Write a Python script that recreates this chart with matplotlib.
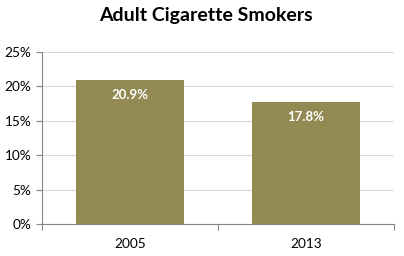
import matplotlib.pyplot as plt
from matplotlib.ticker import FuncFormatter

years = ["2005", "2013"]
smokers = [20.9, 17.8]
bar_color = "#938953"

plt.rcParams["font.family"] = ["Lato", "DejaVu Sans"]

fig = plt.figure(figsize=(4.04, 2.56), dpi=100)
ax = fig.add_axes([42 / 404, 1 - 224 / 256, 352 / 404, 172 / 256])

pos = list(range(len(years)))
bars = ax.bar(pos, smokers, width=0.61, color=bar_color, zorder=3)

for b, v in zip(bars, smokers):
    ax.annotate(f"{v:.1f}%", (b.get_x() + b.get_width() / 2, v),
                xytext=(0, -15), textcoords="offset pixels",
                ha="center", va="center", color="white",
                fontweight="bold", fontsize=9.5)

ax.set_ylim(0, 25)
ax.set_xlim(-0.5, len(years) - 0.5)
ax.set_yticks(range(0, 26, 5))
ax.yaxis.set_major_formatter(FuncFormatter(lambda v, p: f"{v:.0f}%"))
ax.grid(axis="y", color="#d9d9d9", linewidth=0.8, zorder=0)

ax.set_xticks([i - 0.5 for i in range(len(years) + 1)])
ax.set_xticklabels([])
ax.set_xticks(pos, minor=True)
ax.set_xticklabels(years, minor=True)
ax.tick_params(axis="x", which="minor", length=0, pad=10)
ax.tick_params(axis="both", which="major", direction="out", length=4,
               color="#868686", labelsize=9.8)
ax.tick_params(axis="x", which="minor", labelsize=9.8)

for s in ["top", "right"]:
    ax.spines[s].set_visible(False)
for s in ["left", "bottom"]:
    ax.spines[s].set_color("#868686")

fig.text(206 / 404, 1 - 16 / 256, "Adult Cigarette Smokers", ha="center",
         va="center", fontsize=14, fontweight="bold")

fig.savefig("out.png", dpi=100)
